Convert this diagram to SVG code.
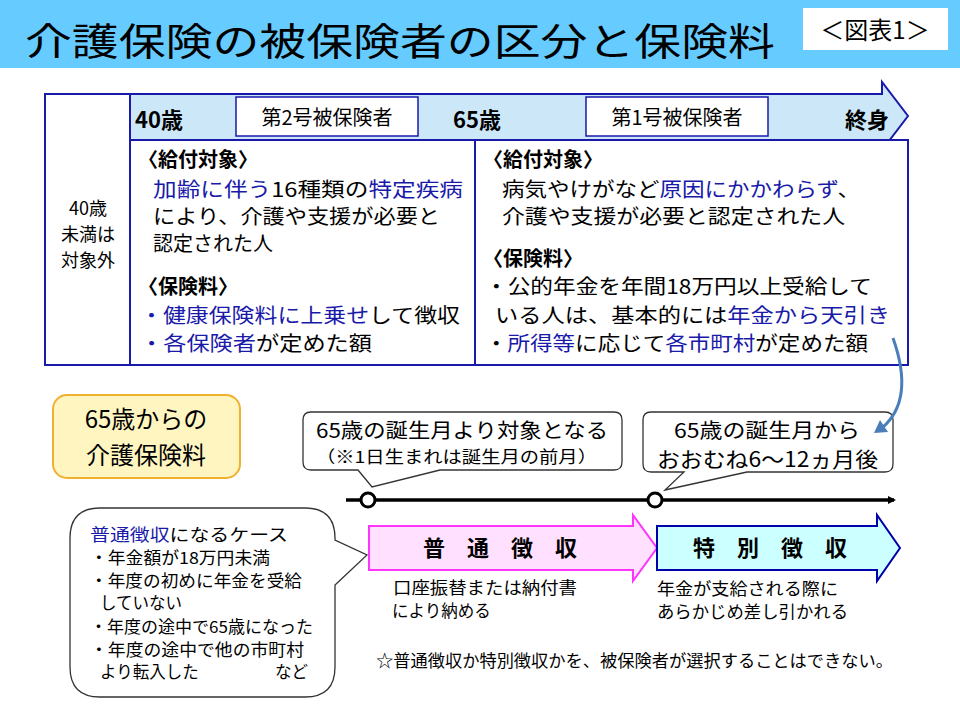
<svg xmlns="http://www.w3.org/2000/svg" width="960" height="720" viewBox="0 0 960 720">
<defs>
<style>
text{font-family:"Noto Sans CJK JP","Noto Sans",sans-serif;fill:#000}
.b{font-weight:bold}
.bl{fill:#1a1aaa}
.t20{font-size:20px}
.t16{font-size:16.5px}
.box{fill:#fff;stroke:#1a1aaa;stroke-width:2}
.call{fill:#fff;stroke:#333;stroke-width:1.3}
</style>
<marker id="ah" markerWidth="8" markerHeight="8" refX="6" refY="4" orient="auto" markerUnits="userSpaceOnUse"><path d="M0,0L8,4L0,8Z" fill="#000"/></marker>
</defs>
<g id="title">
<rect x="0" y="0" width="960" height="68" fill="#66ccff"/>
<text x="25" y="55" font-size="38" textLength="750" lengthAdjust="spacingAndGlyphs">介護保険の被保険者の区分と保険料</text>
<rect x="803" y="8" width="145" height="42" fill="#fff"/>
<text x="875" y="39" font-size="24" text-anchor="middle">＜図表1＞</text>
</g>
<g id="outside">
<rect x="45" y="94" width="85" height="271" class="box"/>
<text x="88" y="215" font-size="18" text-anchor="middle">40歳</text>
<text x="88" y="241" font-size="18" text-anchor="middle">未満は</text>
<text x="88" y="267" font-size="18" text-anchor="middle">対象外</text>
</g>
<g id="age-band">
<path d="M130,94H882V82L908,116L882,150V140H130Z" fill="#cce8f8" stroke="#1a1aaa" stroke-width="2"/>
<text x="135" y="128" font-size="22" class="b">40歳</text>
<text x="453" y="128" font-size="22" class="b">65歳</text>
<text x="845" y="128" font-size="22" class="b">終身</text>
<rect x="236" y="97" width="182" height="39" fill="#fff" stroke="#1a1aaa" stroke-width="1.5"/>
<text x="327" y="125" class="t20" text-anchor="middle">第2号被保険者</text>
<rect x="586" y="97" width="182" height="39" fill="#fff" stroke="#1a1aaa" stroke-width="1.5"/>
<text x="677" y="125" class="t20" text-anchor="middle">第1号被保険者</text>
</g>
<g id="type2">
<rect x="130" y="140" width="345" height="225" class="box"/>
<text x="138" y="167" class="t20 b">〈給付対象〉</text>
<text x="153" y="197" class="t20" textLength="310" lengthAdjust="spacingAndGlyphs"><tspan class="bl">加齢に伴う</tspan>16種類の<tspan class="bl">特定疾病</tspan></text>
<text x="153" y="224" class="t20" textLength="287" lengthAdjust="spacingAndGlyphs">により、介護や支援が必要と</text>
<text x="153" y="251" class="t20">認定された人</text>
<text x="138" y="294" class="t20 b">〈保険料〉</text>
<text x="140" y="323" class="t20" textLength="320" lengthAdjust="spacingAndGlyphs"><tspan class="bl">・健康保険料に上乗せ</tspan>して徴収</text>
<text x="140" y="351" class="t20" textLength="232" lengthAdjust="spacingAndGlyphs"><tspan class="bl">・各保険者</tspan>が定めた額</text>
</g>
<g id="type1">
<rect x="475" y="140" width="433" height="225" class="box"/>
<text x="483" y="167" class="t20 b">〈給付対象〉</text>
<text x="502" y="197" class="t20" textLength="358" lengthAdjust="spacingAndGlyphs">病気やけがなど<tspan class="bl">原因にかかわらず</tspan>、</text>
<text x="502" y="224" class="t20" textLength="343" lengthAdjust="spacingAndGlyphs">介護や支援が必要と認定された人</text>
<text x="483" y="266" class="t20 b">〈保険料〉</text>
<text x="485" y="294" class="t20" textLength="387" lengthAdjust="spacingAndGlyphs">・公的年金を年間18万円以上受給して</text>
<text x="495" y="323" class="t20" textLength="395" lengthAdjust="spacingAndGlyphs">いる人は、基本的には<tspan class="bl">年金から天引き</tspan></text>
<text x="485" y="351" class="t20" textLength="383" lengthAdjust="spacingAndGlyphs">・<tspan class="bl">所得等</tspan>に応じて<tspan class="bl">各市町村</tspan>が定めた額</text>
</g>
<g id="premium65">
<rect x="53" y="395" width="187" height="83" rx="14" fill="#fff5c0" stroke="#f0b030" stroke-width="2"/>
<text x="146" y="428" font-size="24" text-anchor="middle">65歳からの</text>
<text x="146" y="464" font-size="24" text-anchor="middle">介護保険料</text>
</g>
<g id="callout1">
<path d="M311,412H614Q622,412 622,420V462Q622,470 614,470H440L372,487L358,470H311Q303,470 303,462V420Q303,412 311,412Z" class="call"/>
<text x="316" y="438" class="t20" textLength="292" lengthAdjust="spacingAndGlyphs">65歳の誕生月より対象となる</text>
<text x="316" y="463" class="t16" textLength="281" lengthAdjust="spacingAndGlyphs">（※1日生まれは誕生月の前月）</text>
</g>
<g id="callout2">
<path d="M651,412H885Q893,412 893,420V464Q893,472 885,472H747L665,490L684,472H651Q643,472 643,464V420Q643,412 651,412Z" class="call"/>
<text x="674" y="438" class="t20" textLength="186" lengthAdjust="spacingAndGlyphs">65歳の誕生月から</text>
<text x="657" y="467" font-size="21" textLength="221" lengthAdjust="spacingAndGlyphs">おおむね6～12ヵ月後</text>
</g>
<g id="bubble">
<path d="M100,508H305Q335,508 335,538V540L367,555L335,585V667Q335,697 305,697H100Q70,697 70,667V538Q70,508 100,508Z" class="call"/>
<text x="90" y="541" class="t16" textLength="198" lengthAdjust="spacingAndGlyphs"><tspan class="bl">普通徴収</tspan>になるケース</text>
<text x="90" y="564" class="t16" textLength="180" lengthAdjust="spacingAndGlyphs">・年金額が18万円未満</text>
<text x="90" y="587" class="t16" textLength="212" lengthAdjust="spacingAndGlyphs">・年度の初めに年金を受給</text>
<text x="100" y="609" class="t16">していない</text>
<text x="90" y="633" class="t16" textLength="223" lengthAdjust="spacingAndGlyphs">・年度の途中で65歳になった</text>
<text x="90" y="656" class="t16" textLength="214" lengthAdjust="spacingAndGlyphs">・年度の途中で他の市町村</text>
<text x="100" y="678" class="t16">より転入した</text>
<text x="275" y="678" class="t16">など</text>
</g>
<g id="normal">
<path d="M369,526H633V515L657,548L633,581V570H369Z" fill="#ffe0ff" stroke="#ff33ff" stroke-width="2"/>
<text x="500" y="556" font-size="22" class="b" text-anchor="middle">普　通　徴　収</text>
<text x="393" y="594" class="t16" textLength="184" lengthAdjust="spacingAndGlyphs">口座振替または納付書</text>
<text x="392" y="617" class="t16">により納める</text>
</g>
<g id="special">
<path d="M657,526H877V515L900,548L877,581V570H657Z" fill="#ccffff" stroke="#0000aa" stroke-width="2"/>
<text x="770" y="556" font-size="22" class="b" text-anchor="middle">特　別　徴　収</text>
<text x="657" y="595" class="t16" textLength="181" lengthAdjust="spacingAndGlyphs">年金が支給される際に</text>
<text x="657" y="618" class="t16" textLength="191" lengthAdjust="spacingAndGlyphs">あらかじめ差し引かれる</text>
</g>
<text x="376" y="667" class="t16" textLength="517" lengthAdjust="spacingAndGlyphs">☆普通徴収か特別徴収かを、被保険者が選択することはできない。</text>
<g id="connectors">
<line x1="346" y1="500" x2="894" y2="500" stroke="#000" stroke-width="3.5" marker-end="url(#ah)"/>
<circle cx="368" cy="500" r="7" fill="#fff" stroke="#000" stroke-width="3"/>
<circle cx="655" cy="500" r="7" fill="#fff" stroke="#000" stroke-width="3"/>
<path d="M893,338Q915,400 882,428" fill="none" stroke="#4a7ebb" stroke-width="3"/>
<path d="M874,433L880,420L888,432Z" fill="#4a7ebb"/>
</g>
</svg>
